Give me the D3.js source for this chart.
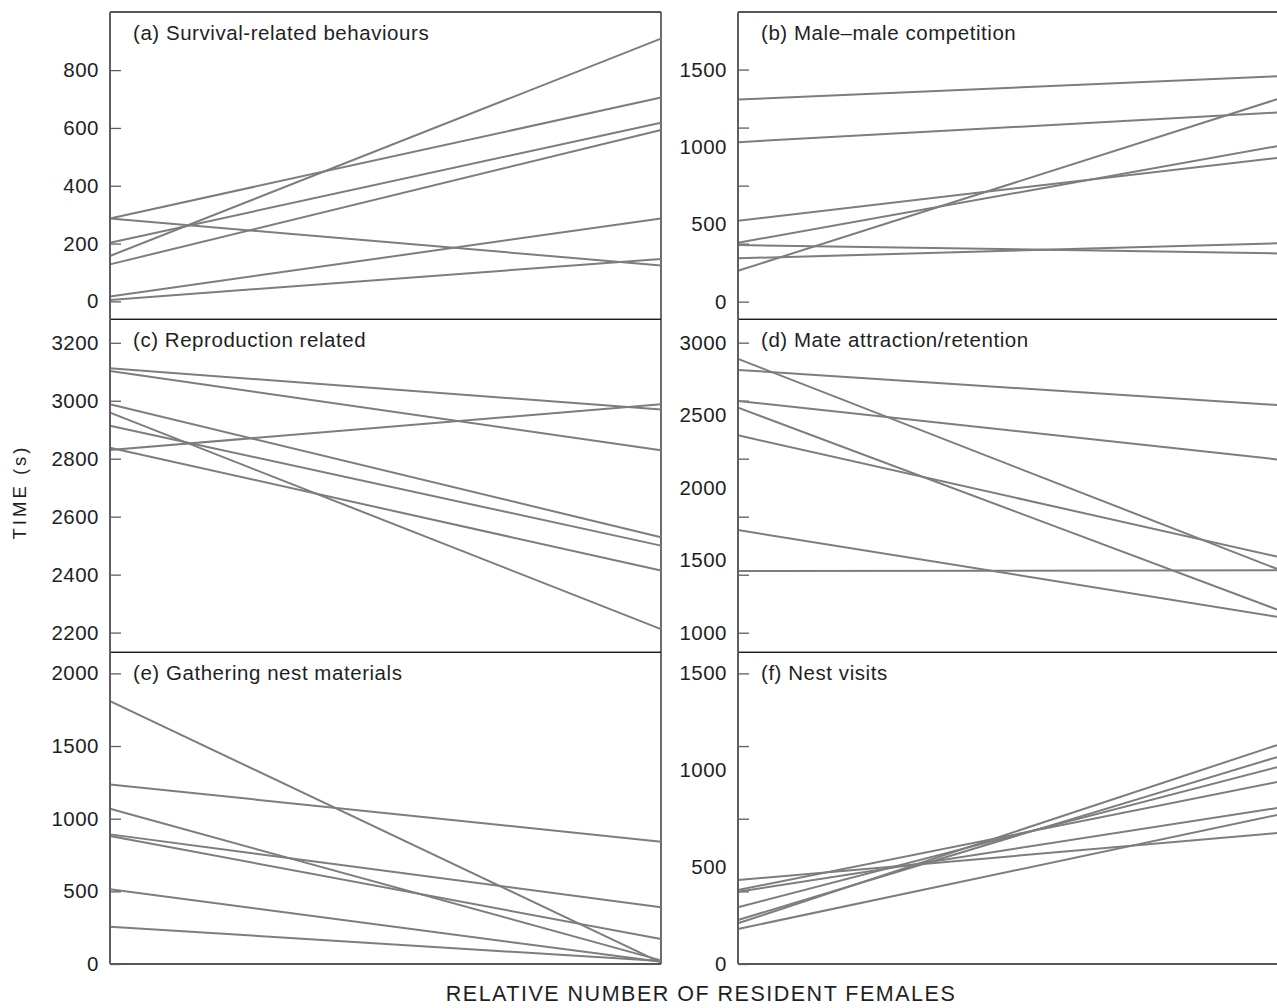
<!DOCTYPE html>
<html>
<head>
<meta charset="utf-8">
<script src="https://cdn.jsdelivr.net/npm/d3@7"></script>
<style>
  html, body { margin: 0; padding: 0; background: #fff; }
  svg { display: block; font-family: "Liberation Sans", Arial, Helvetica, sans-serif; }
</style>
</head>
<body>
<svg id="chart" width="1277" height="1008"></svg>
<script>
// Two conditions on the x axis: fewer vs more resident females
const conditions = ["fewer", "more"];

// Panel titles
const titles = [
  "(a) Survival-related behaviours",
  "(b) Male\u2013male competition",
  "(c) Reproduction related",
  "(d) Mate attraction/retention",
  "(e) Gathering nest materials",
  "(f) Nest visits"
];

// Time (s) per male at each condition
const survivalStart     = [157, 287, 203, 128, 287, 17, 5];
const survivalEnd       = [909, 705, 618, 593, 124, 287, 147];
const competitionStart  = [1306, 1031, 200, 523, 381, 366, 280];
const competitionEnd    = [1457, 1222, 1308, 929, 1005, 312, 377];
const reproductionStart = [3112, 3103, 2830, 2988, 2914, 2838, 2959];
const reproductionEnd   = [2970, 2829, 2988, 2529, 2500, 2414, 2212];
const attractionStart   = [2812, 2598, 2361, 2888, 1426, 2552, 1708];
const attractionEnd     = [2570, 2195, 1525, 1440, 1430, 1160, 1110];
const gatheringStart    = [1809, 1236, 892, 1068, 881, 514, 257];
const gatheringEnd      = [10, 841, 390, 25, 172, 15, 20];
const visitsStart       = [433, 382, 373, 293, 227, 210, 181];
const visitsEnd         = [676, 939, 805, 1016, 1068, 1130, 769];

// Axis extents, tick marks and labelled values per panel
const yDomains = [[-62, 1001], [-114, 1872], [2132, 3281], [865, 3161], [0, 2145], [0, 1609]];
const tickMarks = [
  [0, 200, 400, 600, 800],
  [0, 375, 750, 1125, 1500],
  [2200, 2400, 2600, 2800, 3000, 3200],
  [1000, 1400, 1800, 2200, 2600, 3000],
  [0, 500, 1000, 1500, 2000],
  [0, 375, 750, 1125, 1500]
];
const tickLabels = [
  [0, 200, 400, 600, 800],
  [0, 500, 1000, 1500],
  [2200, 2400, 2600, 2800, 3000, 3200],
  [1000, 1500, 2000, 2500, 3000],
  [0, 500, 1000, 1500, 2000],
  [0, 500, 1000, 1500]
];

const starts = [survivalStart, competitionStart, reproductionStart, attractionStart, gatheringStart, visitsStart];
const ends   = [survivalEnd, competitionEnd, reproductionEnd, attractionEnd, gatheringEnd, visitsEnd];

// Grid layout
const colX = [[110, 661], [738, 1277]];
const rowY = [[12, 319.3], [319.3, 652.3], [652.3, 964]];

const svg = d3.select("#chart");
const lineColor = "#7d7d80";
const frameColor = "#1e1e1e";
const spineColor = "#5e5e60";
const textColor = "#1f1f1f";

titles.forEach((title, i) => {
  const col = i % 2, row = Math.floor(i / 2);
  const [x0, x1] = colX[col];
  const [yTop, yBot] = rowY[row];

  const x = d3.scalePoint().domain(conditions).range([x0, x1]).padding(0);
  const y = d3.scaleLinear().domain(yDomains[i]).range([yBot, yTop]);

  const g = svg.append("g").attr("class", "panel");

  // frame: top, bottom, right (left panels only)
  g.append("line").attr("x1", x0).attr("x2", x1).attr("y1", yTop).attr("y2", yTop)
    .attr("stroke", frameColor).attr("stroke-width", 1.3);
  g.append("line").attr("x1", x0).attr("x2", x1).attr("y1", yBot).attr("y2", yBot)
    .attr("stroke", frameColor).attr("stroke-width", 1.3);
  if (col === 0) {
    g.append("line").attr("x1", x1).attr("x2", x1).attr("y1", yTop).attr("y2", yBot)
      .attr("stroke", frameColor).attr("stroke-width", 1.3);
  }

  // inward tick marks
  const tickAxis = d3.axisRight(y).tickValues(tickMarks[i]).tickSize(11).tickFormat("");
  const tg = g.append("g").attr("transform", `translate(${x0},0)`).call(tickAxis);
  tg.select(".domain").remove();
  tg.selectAll(".tick line").attr("stroke", spineColor).attr("stroke-width", 1.3);

  // value labels
  const labelAxis = d3.axisLeft(y).tickValues(tickLabels[i]).tickSize(0).tickPadding(12)
    .tickFormat(d3.format("d"));
  const lg = g.append("g").attr("transform", `translate(${x0 + 1},0)`).call(labelAxis);
  lg.select(".domain").remove();
  lg.selectAll(".tick line").remove();
  lg.selectAll(".tick text")
    .attr("font-size", 20.5).attr("letter-spacing", "0.5px")
    .attr("fill", textColor).attr("font-family", null);

  // data lines
  const rows = starts[i].map((s, k) => [s, ends[i][k]]);
  const line = d3.line().x((d, k) => x(conditions[k])).y(d => y(d));
  g.append("g").selectAll("path").data(rows).join("path")
    .attr("d", d => line(d))
    .attr("fill", "none").attr("stroke", lineColor).attr("stroke-width", 2);

  // left spine
  g.append("line").attr("x1", x0).attr("x2", x0).attr("y1", yTop).attr("y2", yBot)
    .attr("stroke", spineColor).attr("stroke-width", 2);

  // panel title
  g.append("text").attr("x", x0 + 23).attr("y", yTop + 28)
    .attr("font-size", 20.5).attr("letter-spacing", "0.55px")
    .attr("fill", textColor).text(title);
});

// axis titles
svg.append("text")
  .attr("x", 701).attr("y", 1001)
  .attr("text-anchor", "middle")
  .attr("font-size", 21.5).attr("letter-spacing", "1.5px")
  .attr("fill", textColor)
  .text("RELATIVE NUMBER OF RESIDENT FEMALES");

svg.append("text")
  .attr("transform", "translate(26,492) rotate(-90)")
  .attr("text-anchor", "middle")
  .attr("font-size", 18.5).attr("letter-spacing", "3px")
  .attr("fill", textColor)
  .text("TIME (s)");
</script>
</body>
</html>
